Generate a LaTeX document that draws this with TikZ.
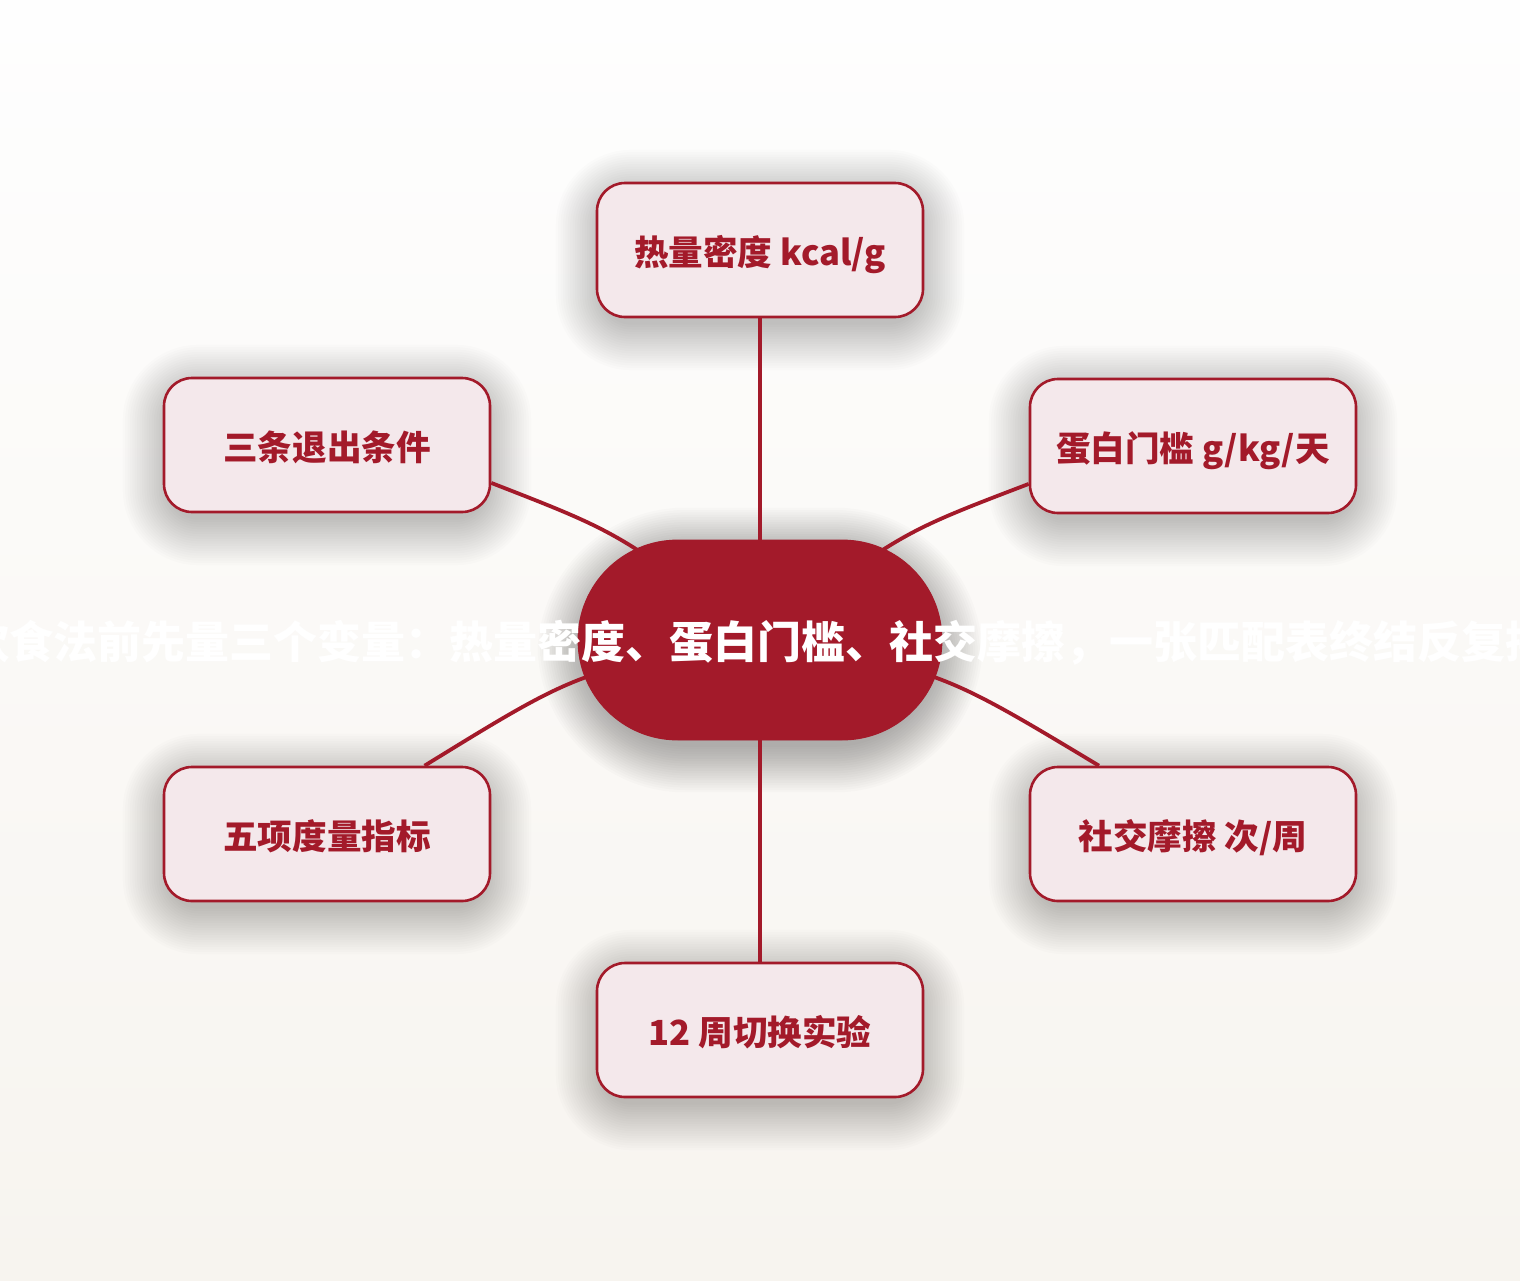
\documentclass[tikz,border=0pt]{standalone}
\usepackage{fontspec}
\setmainfont{Noto Sans CJK SC}
\usetikzlibrary{calc}
\definecolor{dred}{HTML}{A31A2A}
\definecolor{pinkfill}{HTML}{F4E8EB}
\definecolor{bgtop}{HTML}{FEFEFE}
\definecolor{bgbot}{HTML}{F7F4EF}
\pgfdeclarelayer{back}
\pgfdeclarelayer{shadowlayer}
\pgfsetlayers{back,shadowlayer,main}
\tikzset{
  leafbox/.style={draw=dred, line width=1.3pt, fill=pinkfill, rounded corners=14pt,
    minimum width=163pt, minimum height=67pt, inner sep=0pt,
    text height=17pt, text depth=1.8pt,
    text=dred, font=\bfseries\fontsize{17.3}{20}\selectfont},
  hubshape/.style={fill=dred, draw=none, rounded corners=50pt,
    minimum width=182pt, minimum height=100pt, inner sep=0pt},
  hubtext/.style={text=white, font=\bfseries\fontsize{22}{26}\selectfont, inner sep=0pt},
  link/.style={draw=dred, line width=1.9pt}
}
\newcommand{\mysoftshadow}[3]{% node, corner radius (pt), step opacity
  \begin{pgfonlayer}{shadowlayer}
  \foreach \i in {1,...,20}{
    \fill[black, opacity=#3, rounded corners=#2+\i*1.2pt]
      ($(#1.south west)+(-2.4*\i+8,2.4*\i+4)$) rectangle ($(#1.north east)+(2.4*\i-8,-2.4*\i+16)$);
  }
  \end{pgfonlayer}}
\begin{document}
\begin{tikzpicture}[x=0.5pt,y=-0.5pt]
\useasboundingbox (0,0) rectangle (1520,1280);
\clip (0,0) rectangle (1520,1280);
\begin{pgfonlayer}{back}
\shade[top color=bgtop, bottom color=bgbot] (0,0) rectangle (1520,1280);
\end{pgfonlayer}
\node[leafbox] (t)  at (760,250)  {热量密度 kcal/g};
\node[leafbox] (ul) at (327,445)  {三条退出条件};
\node[leafbox] (ur) at (1193,446) {蛋白门槛 g/kg/天};
\node[leafbox] (ll) at (327,834)  {五项度量指标};
\node[leafbox] (lr) at (1193,834) {社交摩擦 次/周};
\node[leafbox] (b)  at (760,1030) {12 周切换实验};
\node[hubshape] (c) at (760,640) {};
\mysoftshadow{t}{14pt}{0.012}
\mysoftshadow{ul}{14pt}{0.012}
\mysoftshadow{ur}{14pt}{0.012}
\mysoftshadow{ll}{14pt}{0.012}
\mysoftshadow{lr}{14pt}{0.012}
\mysoftshadow{b}{14pt}{0.012}
\mysoftshadow{c}{50pt}{0.017}
\draw[link] (t.south) -- (c.center);
\draw[link] (b.north) -- (c.center);
\draw[link] (ul.-13.5) .. controls (620,533) .. (c.center);
\draw[link] (ur.193.8) .. controls (900,533) .. (c.center);
\draw[link] (ll.35.8) .. controls (580,670) .. (c.center);
\draw[link] (lr.144.2) .. controls (940,670) .. (c.center);
\fill[dred, rounded corners=50pt] (c.south west) rectangle (c.north east);
\node[hubtext] (ctitle) at (758,643) {选饮食法前先量三个变量：热量密度、蛋白门槛、社交摩擦，一张匹配表终结反复摇摆};
\end{tikzpicture}
\end{document}
